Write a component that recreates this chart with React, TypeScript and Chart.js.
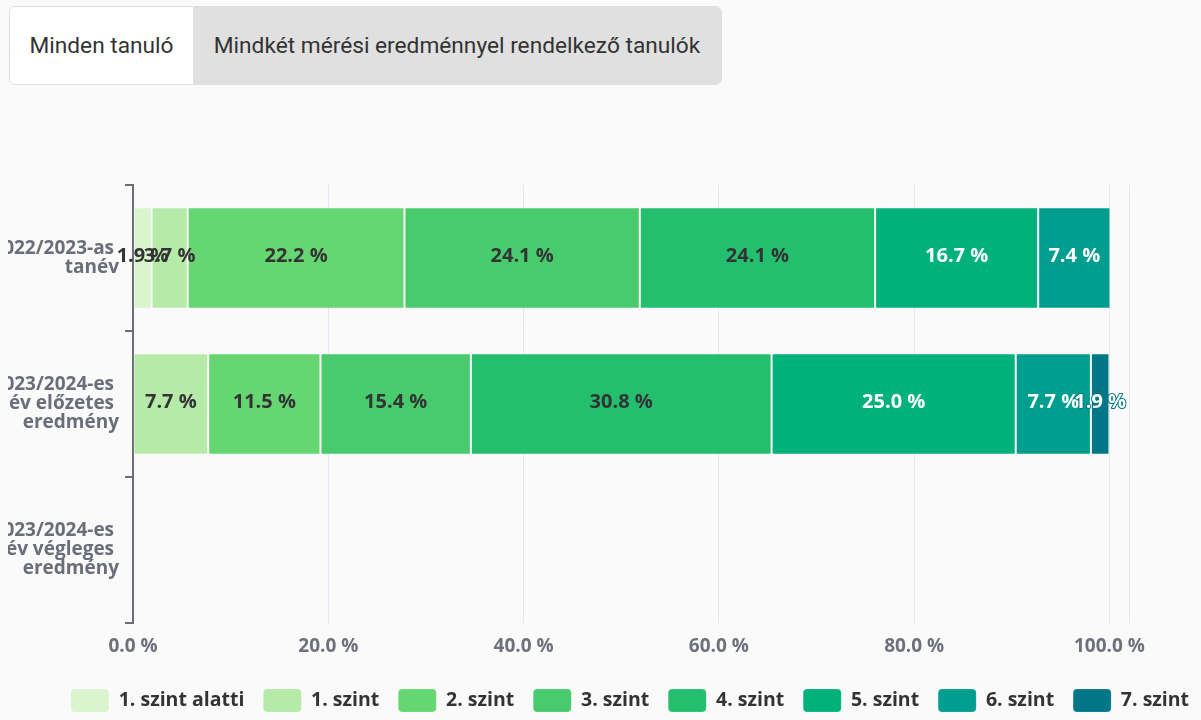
import React, { useEffect, useRef } from 'react';
import { Chart, registerables } from 'chart.js';

Chart.register(...registerables);

document.body.style.margin = '0';
document.body.style.overflow = 'hidden';
document.body.style.background = '#fafafa';

// ---- data ----
const categories: string[][] = [
  ['2022/2023-as', 'tanév'],
  ['2023/2024-es', 'tanév előzetes', 'eredmény'],
  ['2023/2024-es', 'tanév végleges', 'eredmény'],
];
const seriesNames = ['1. szint alatti', '1. szint', '2. szint', '3. szint', '4. szint', '5. szint', '6. szint', '7. szint'];
const seriesColors = ['#daf5cd', '#b5eaa8', '#66d673', '#48cb6c', '#23bf6f', '#00b27a', '#009e8e', '#007686'];
const whiteLabelSeries = [false, false, false, false, false, true, true, true];

const level0 = [1.9, null, null];
const level1 = [3.7, 7.7, null];
const level2 = [22.2, 11.5, null];
const level3 = [24.1, 15.4, null];
const level4 = [24.1, 30.8, null];
const level5 = [16.7, 25.0, null];
const level6 = [7.4, 7.7, null];
const level7 = [null, 1.9, null];
const seriesValues = [level0, level1, level2, level3, level4, level5, level6, level7];

const xTickValues = [0, 20, 40, 60, 80, 100];
const xMax = 102;
const buttonLabels = ['Minden tanuló', 'Mindkét mérési eredménnyel rendelkező tanulók'];

const fmt = (v: number) => v.toFixed(1) + ' %';

const segmentLabels = {
  id: 'segmentLabels',
  afterDatasetsDraw(chart: any) {
    const ctx = chart.ctx;
    ctx.save();
    ctx.font = 'bold 20px "Open Sans"';
    ctx.textAlign = 'center';
    ctx.textBaseline = 'middle';
    ctx.lineJoin = 'round';
    chart.data.datasets.forEach((ds: any, i: number) => {
      const meta = chart.getDatasetMeta(i);
      meta.data.forEach((el: any, j: number) => {
        const v = ds.data[j];
        if (v == null || v === 0) return;
        const { x, base, y } = el.getProps(['x', 'base', 'y'], true);
        const cx = (x + base) / 2;
        const cy = y - 2;
        const text = fmt(v);
        if (whiteLabelSeries[i]) {
          ctx.lineWidth = 2;
          ctx.strokeStyle = seriesColors[i];
          ctx.strokeText(text, cx, cy);
          ctx.fillStyle = '#ffffff';
        } else {
          ctx.fillStyle = '#333333';
        }
        ctx.fillText(text, cx, cy);
      });
    });
    ctx.restore();
  },
};

export default function App() {
  const canvasRef = useRef<HTMLCanvasElement | null>(null);

  useEffect(() => {
    if (!canvasRef.current) return;
    const chart = new Chart(canvasRef.current, {
      type: 'bar',
      data: {
        labels: categories as any,
        datasets: seriesNames.map((name, i) => ({
          label: name,
          data: seriesValues[i] as any,
          backgroundColor: seriesColors[i],
          borderColor: 'rgba(255,255,255,0.15)',
          borderWidth: 1,
          borderSkipped: false,
          categoryPercentage: 1,
          barPercentage: 0.695,
        })),
      },
      options: {
        indexAxis: 'y',
        responsive: false,
        animation: false,
        layout: { padding: { top: 85, right: 0, left: 0, bottom: 0 } },
        scales: {
          x: {
            stacked: true,
            min: 0,
            max: xMax,
            afterBuildTicks: (s: any) => {
              s.ticks = [...xTickValues, xMax].map((v) => ({ value: v }));
            },
            afterFit: (s: any) => {
              s.height = 47;
            },
            ticks: {
              autoSkip: false,
              maxRotation: 0,
              padding: 12,
              color: '#6e717c',
              font: { family: 'Open Sans', weight: 'bold', size: 19 },
              callback: (v: any) => (xTickValues.includes(Number(v)) ? fmt(Number(v)) : ''),
            },
            grid: { color: '#e4e8f0', drawTicks: false, lineWidth: 1 },
            border: { display: false },
          },
          y: {
            stacked: true,
            afterFit: (s: any) => {
              s.width = 125;
            },
            ticks: {
              padding: 6,
              color: '#6b6e79',
              font: { family: 'Open Sans', weight: 'bold', size: 19, lineHeight: '19px' },
              callback: function (this: any, v: any) {
                const lines = categories[Number(v)] || [];
                // wrapped lines keep their trailing space, as in the original word-wrap
                return lines.map((l, k) => (k < lines.length - 1 ? l + ' ' : l));
              },
            },
            grid: {
              offset: true,
              drawOnChartArea: false,
              color: '#6b6e78',
              lineWidth: 2,
              tickLength: 8,
            },
            border: { color: '#6b6e78', width: 2 },
          },
          rightSpace: {
            type: 'category',
            position: 'right',
            labels: [''],
            afterFit: (s: any) => {
              s.width = 123;
            },
            ticks: { display: false },
            grid: { display: false },
            border: { display: false },
          },
        },
        plugins: {
          tooltip: { enabled: false },
          legend: {
            position: 'bottom',
            labels: {
              boxWidth: 38,
              boxHeight: 23,
              useBorderRadius: true,
              borderRadius: 4,
              padding: 19,
              color: '#333333',
              font: { family: 'Open Sans', weight: 'bold', size: 19.5 },
            },
          },
        },
      } as any,
      plugins: [segmentLabels],
    });
    return () => chart.destroy();
  }, []);

  return (
    <div style={{ position: 'relative', width: 1201, height: 720, overflow: 'hidden', background: '#fafafa' }}>
      <div
        style={{
          position: 'absolute',
          left: 9,
          top: 6,
          width: 713,
          height: 79,
          boxSizing: 'border-box',
          border: '1px solid #dedede',
          borderRadius: 6,
          overflow: 'hidden',
          display: 'flex',
          fontFamily: 'Roboto',
          fontSize: 22.7,
          color: '#333333',
        }}
      >
        <div style={{ flex: '0 0 183px', background: '#ffffff', textAlign: 'center', lineHeight: '77px' }}>{buttonLabels[0]}</div>
        <div style={{ flex: '1 1 auto', background: '#e0e0e0', textAlign: 'center', lineHeight: '77px' }}>{buttonLabels[1]}</div>
      </div>
      <canvas
        ref={canvasRef}
        width={1244}
        height={622}
        style={{ position: 'absolute', left: 8, top: 100, width: 1244, height: 622 }}
      />
    </div>
  );
}
